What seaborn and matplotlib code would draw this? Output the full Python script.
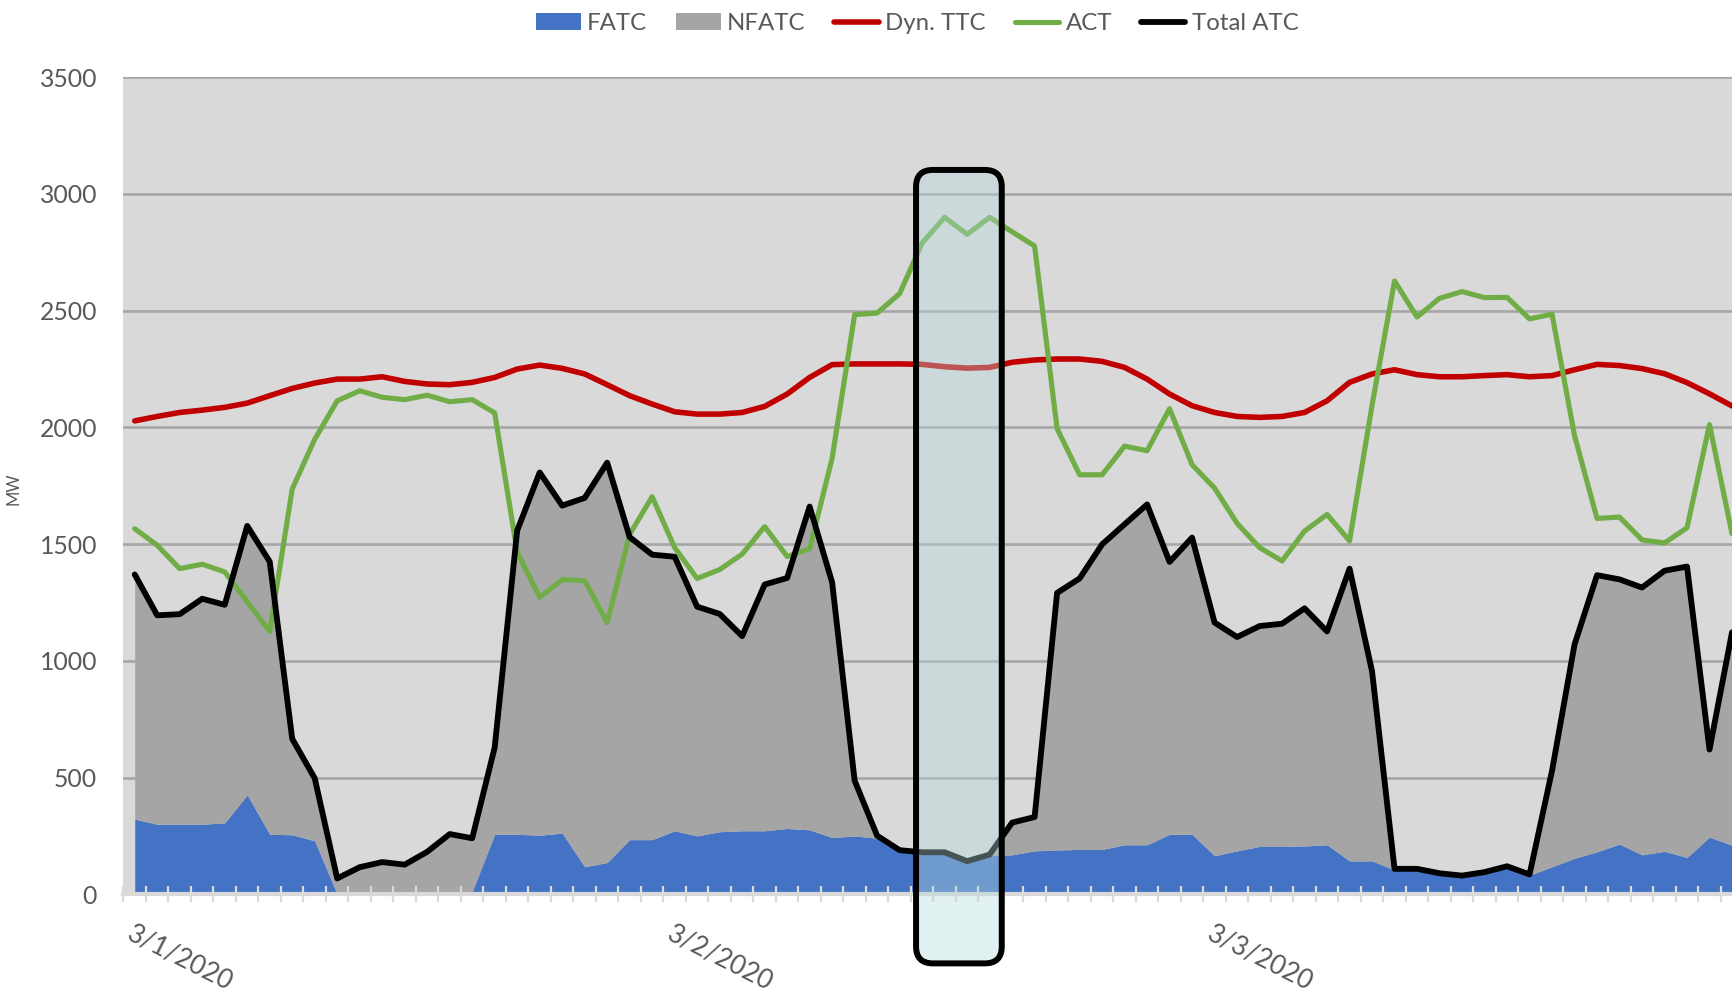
import numpy as np
import pandas as pd
import matplotlib
matplotlib.use("Agg")
import matplotlib.pyplot as plt
import seaborn as sns
from matplotlib.patches import Patch, FancyBboxPatch
from matplotlib.lines import Line2D

# ---------------- data (hourly, 3 days) ----------------
date_labels = ["3/1/2020", "3/2/2020", "3/3/2020"]
hours_per_day = 24

fatc = [322, 300, 300, 300, 306, 426, 257, 255, 229, 0, 0, 0, 0, 0, 0, 12,
        257, 257, 253, 262, 118, 136, 234, 234, 272, 250, 268, 272, 272, 282, 276, 243,
        250, 240, 189, 180, 180, 142, 165, 169, 186, 190, 192, 192, 212, 212, 257, 257,
        165, 186, 205, 205, 207, 212, 143, 143, 104, 105, 88, 78, 92, 117, 82, 118,
        154, 182, 215, 169, 184, 158, 245, 210]

total_atc = [1370, 1195, 1200, 1266, 1240, 1578, 1425, 666, 497, 68, 116, 138, 127, 182, 258, 240,
             629, 1558, 1807, 1665, 1698, 1849, 1530, 1455, 1446, 1232, 1201, 1106, 1327, 1355, 1661, 1336,
             487, 251, 189, 180, 180, 142, 170, 307, 331, 1291, 1353, 1499, 1585, 1670, 1424, 1528,
             1164, 1102, 1149, 1159, 1225, 1126, 1395, 955, 109, 109, 90, 80, 95, 120, 85, 529,
             1070, 1367, 1349, 1314, 1386, 1404, 620, 1122]

dyn_ttc = [2028, 2047, 2064, 2074, 2086, 2104, 2136, 2167, 2190, 2207, 2207, 2217, 2197, 2186, 2183, 2193,
           2214, 2250, 2267, 2253, 2229, 2183, 2136, 2100, 2067, 2057, 2057, 2064, 2090, 2143, 2214, 2269,
           2272, 2272, 2272, 2270, 2260, 2254, 2257, 2279, 2289, 2293, 2293, 2283, 2257, 2207, 2143, 2093,
           2064, 2047, 2043, 2047, 2064, 2114, 2193, 2229, 2247, 2226, 2217, 2217, 2222, 2226, 2217, 2222,
           2247, 2270, 2265, 2252, 2230, 2192, 2144, 2092]

act = [1566, 1495, 1395, 1414, 1381, 1253, 1126, 1736, 1949, 2114, 2157, 2129, 2119, 2138, 2110, 2119,
       2062, 1466, 1272, 1348, 1343, 1164, 1542, 1703, 1485, 1353, 1391, 1457, 1575, 1447, 1480, 1868,
       2483, 2490, 2573, 2790, 2900, 2827, 2900, 2838, 2777, 1995, 1797, 1797, 1920, 1900, 2080, 1840,
       1740, 1589, 1485, 1428, 1556, 1627, 1514, 2095, 2627, 2473, 2553, 2582, 2556, 2557, 2465, 2485,
       1965, 1610, 1616, 1518, 1505, 1570, 2012, 1545]

# highlighted window (hour index range) and its vertical extent
highlight_hours = (34.73, 38.54)
highlight_mw = (-296, 3103)

# ---------------- styling ----------------
sns.set_theme(style="white")
plt.rcParams['font.family'] = ['Lato', 'DejaVu Sans']

C_FATC = '#4472C4'
C_NFATC = '#A5A5A5'
C_TTC = '#C00000'
C_ACT = '#70AD47'
C_TOT = '#000000'
TXT = '#595959'
LW_TTC, LW_ACT, LW_TOT = 4.0, 3.7, 4.2

hour = np.arange(len(total_atc))
nfatc = np.clip(np.array(total_atc) - np.array(fatc), 0, None)
df = pd.DataFrame({'hour': hour, 'FATC': fatc, 'NFATC': nfatc,
                   'Dyn. TTC': dyn_ttc, 'ACT': act, 'Total ATC': total_atc})

fig = plt.figure(figsize=(17.32, 10.02), dpi=100)
ax = fig.add_axes([0.0713, 0.1075, 0.9287, 0.8154])
ax.set_facecolor('#D9D9D9')

# stacked areas
ax.fill_between(df['hour'], 0, df['FATC'], color=C_FATC, lw=0, zorder=1)
ax.fill_between(df['hour'], df['FATC'], df['FATC'] + df['NFATC'], color=C_NFATC, lw=0, zorder=1)

line_kw = dict(solid_joinstyle='round', solid_capstyle='round')
sns.lineplot(data=df, x='hour', y='Dyn. TTC', color=C_TTC, linewidth=LW_TTC, ax=ax, zorder=3, **line_kw)
sns.lineplot(data=df, x='hour', y='ACT', color=C_ACT, linewidth=LW_ACT, ax=ax, zorder=3, **line_kw)
sns.lineplot(data=df, x='hour', y='Total ATC', color=C_TOT, linewidth=LW_TOT, ax=ax, zorder=4, **line_kw)

# ticks
ax.set_yticks(np.arange(0, 3501, 500))
ax.set_xticks(hour[::hours_per_day])
ax.set_xticklabels(date_labels, rotation=-27, ha='left', va='top',
                   rotation_mode='anchor', fontsize=18.8, color=TXT)
ax.tick_params(axis='x', which='major', length=0, pad=19)
ax.set_xticks(np.arange(-0.5, len(hour) - 1, 1), minor=True)
ax.tick_params(axis='x', which='minor', direction='inout', length=12, width=1.6,
               color='#D9D9D9', bottom=True)
ax.tick_params(axis='y', length=0, pad=19, labelsize=17.8, labelcolor=TXT)

# limits / grid
ax.set_xlim(-0.5, len(hour) - 1)
ax.set_ylim(0, 3500)
ax.yaxis.grid(True, color='#A6A6A6', linewidth=1.9)
ax.xaxis.grid(False)
ax.yaxis.set_zorder(0.5)
ax.xaxis.set_zorder(2.5)

for s in ['top', 'right', 'left']:
    ax.spines[s].set_visible(False)
ax.spines['bottom'].set_color('#D9D9D9')
ax.spines['bottom'].set_linewidth(3)
ax.spines['bottom'].set_zorder(2.6)

ax.set_xlabel('')
ax.set_ylabel('MW', fontsize=12, color=TXT)
ax.yaxis.set_label_coords(-0.0633, 0.496)

# highlight box (rounded, semi-transparent)
bbox = ax.get_position()
fig_w, fig_h = fig.get_size_inches() * fig.dpi
x0, x1 = ax.get_xlim()
mw_per_px = 3500 / (bbox.height * fig_h)
hr_per_px = (x1 - x0) / (bbox.width * fig_w)
aspect = mw_per_px / hr_per_px
box = FancyBboxPatch((highlight_hours[0], highlight_mw[0]),
                     highlight_hours[1] - highlight_hours[0],
                     highlight_mw[1] - highlight_mw[0],
                     boxstyle="round,pad=0,rounding_size=0.75",
                     mutation_aspect=aspect, transform=ax.transData, clip_on=False,
                     facecolor=(182 / 255, 219 / 255, 221 / 255, 0.385),
                     edgecolor='black', linewidth=4.3, zorder=10)
ax.add_patch(box)

# legend
handles = [Patch(facecolor=C_FATC, edgecolor='none'),
           Patch(facecolor=C_NFATC, edgecolor='none'),
           Line2D([], [], color=C_TTC, lw=LW_TTC, solid_capstyle='round'),
           Line2D([], [], color=C_ACT, lw=LW_ACT, solid_capstyle='round'),
           Line2D([], [], color=C_TOT, lw=LW_TOT, solid_capstyle='round')]
labels = ['FATC', 'NFATC', 'Dyn. TTC', 'ACT', 'Total ATC']
fig.legend(handles, labels, loc='center', bbox_to_anchor=(0.5297, 1 - 23.5 / 1002),
           ncol=5, frameon=False, fontsize=17.3, handlelength=1.85,
           handletextpad=0.27, columnspacing=1.2, labelcolor=TXT)

fig.savefig('out.png', dpi=100)
